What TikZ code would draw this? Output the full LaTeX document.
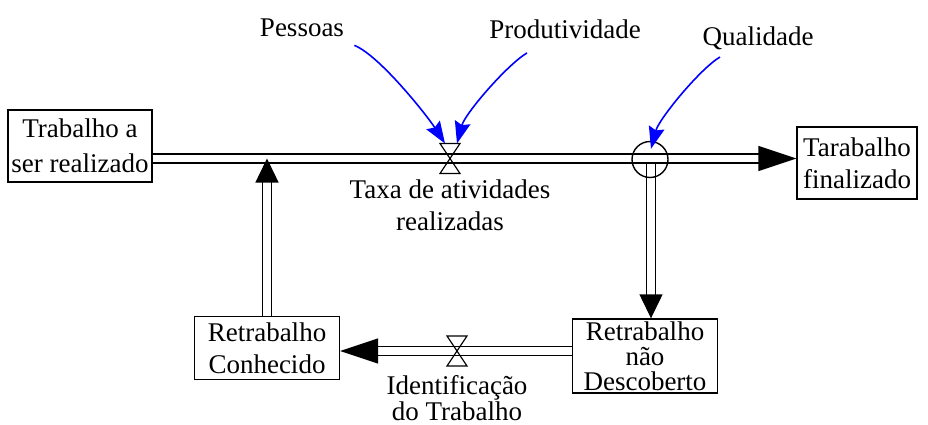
\documentclass[tikz,border=0pt]{standalone}
\usepackage{fontspec}
\setmainfont{Liberation Serif}
\usetikzlibrary{arrows.meta,positioning}
\definecolor{inflblue}{rgb}{0,0,1}
\tikzset{valve/.pic={\draw[line width=0.6pt] (-10,-15) -- (10,-15) -- (0,0) -- cycle (0,0) -- (-10,15) -- (10,15) -- cycle;}}

\begin{document}
\begin{tikzpicture}[% one unit is one pixel of the 928x424 picture, y runs down
			x=0.5pt,y=-0.5pt,
			every node/.style={
				align=center,  		% so that "\\" breaks the line
				font=\fontsize{13.5}{16}\selectfont,
				inner sep=0pt
			},
			stock/.style={rectangle,draw=black,line width=0.7pt,minimum width=72.5pt,minimum height=36pt},
			every edge/.style={draw,line width=0.7pt,double,double distance=3.8pt},
			hhead/.style={-{Triangle[length=19pt,width=12.5pt]}},
			vhead/.style={-{Triangle[length=12pt,width=11.5pt]}},
			infl/.style={inflblue,line width=0.8pt,-{Stealth[length=11pt,width=8pt,inset=1.5pt]}}
		]
		\useasboundingbox (0,0) rectangle (928,424);
		\node[stock,minimum width=72pt](S1) at (80,146) {Trabalho a\\[1.5pt]ser realizado};
		\node[stock,minimum width=60pt](S2) at (857,163) {Tarabalho\\finalizado};
		\node[stock,minimum height=31.5pt](S3) at (267,348) {Retrabalho\\Conhecido};
		\node[stock,minimum height=37pt](S4) at (645,356) {Retrabalho\\[-3.5pt]não\\[-3.5pt]Descoberto};
		\coordinate (V1) at (450,158.5);
		\coordinate (V2) at (457,351);
		\coordinate (A1s) at (651,163.5);
		\path
		(A1s)edge [vhead] (A1s |- S4.north)
		(S1.east |- V1)edge [hhead] (S2.west |- V1)
		(S4.west |- V2)edge [hhead] (S3.east |- V2)
		(S3.north)edge [vhead] (S3.north |- V1)
		;
		\node[circle,draw,line width=0.7pt,minimum size=18pt](A1) at (650,159.5) {};
		\pic at (V1) {valve};
		\pic at (V2) {valve};
		\node (L1) [below=10.5pt of V1] {Taxa de atividades\\realizadas};
		\node (L2) [below=12pt of V2] {Identificação\\[-3pt]do Trabalho};
		\node (P1) at (302,28) {Pessoas};
		\node (P2) at (565,29) {Produtividade};
		\node (P3) at (758,38) {Qualidade};
		\draw[infl] ([shift={(10,8)}]P1.south east) .. controls +(25,10) and +(-18,-28) .. ([shift={(-5,-15)}]V1);
		\draw[infl] ([shift={(-38,14)}]P2.south) .. controls +(-20,12) and +(8,-30) .. ([shift={(7,-15)}]V1);
		\draw[infl] ([shift={(-38,7)}]P3.south) .. controls +(-20,12) and +(8,-30) .. ([shift={(1,8)}]A1.north);
	\end{tikzpicture}
\end{document}
